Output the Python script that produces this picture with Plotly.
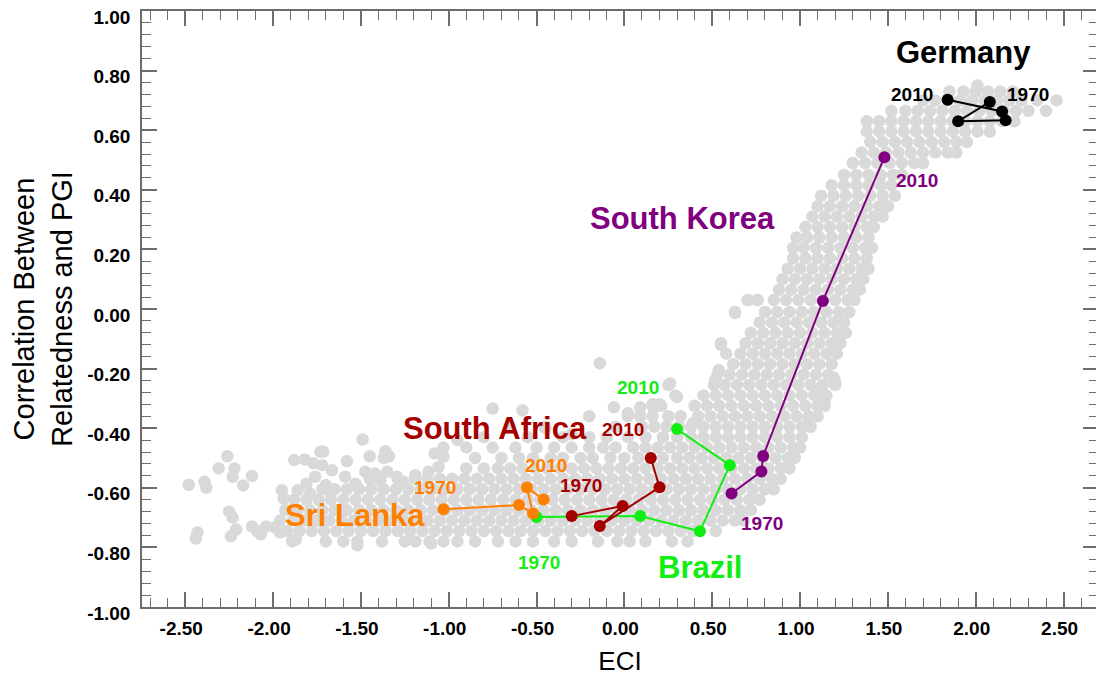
import plotly.graph_objects as go

# ---------------- data ----------------
x_tick_vals = [-2.5, -2.0, -1.5, -1.0, -0.5, 0.0, 0.5, 1.0, 1.5, 2.0, 2.5]
x_tick_text = ["-2.50", "-2.00", "-1.50", "-1.00", "-0.50", "0.00", "0.50", "1.00", "1.50", "2.00", "2.50"]
y_tick_vals = [-1.0, -0.8, -0.6, -0.4, -0.2, 0.0, 0.2, 0.4, 0.6, 0.8, 1.0]
y_tick_text = ["-1.00", "-0.80", "-0.60", "-0.40", "-0.20", "0.00", "0.20", "0.40", "0.60", "0.80", "1.00"]

years = [1970, 1980, 1990, 2000, 2010]
germany_eci = [2.08, 1.90, 2.17, 2.15, 1.84]
germany_corr = [0.695, 0.630, 0.633, 0.663, 0.702]
korea_eci = [0.61, 0.78, 0.79, 1.13, 1.48]
korea_corr = [-0.619, -0.545, -0.493, 0.027, 0.509]
brazil_eci = [-0.50, 0.09, 0.43, 0.60, 0.30]
brazil_corr = [-0.698, -0.695, -0.746, -0.524, -0.403]
safrica_eci = [-0.30, -0.01, -0.14, 0.20, 0.15]
safrica_corr = [-0.695, -0.661, -0.728, -0.598, -0.500]
srilanka_eci = [-1.03, -0.60, -0.52, -0.555, -0.46]
srilanka_corr = [-0.672, -0.658, -0.686, -0.599, -0.639]

# grey cloud: all country-years, read row by row (corr, list of ECI)
cloud_rows = [
    (-0.780, [-1.89, -1.70, -1.60, -1.52, -1.38, -1.25, -1.19, -1.11, -1.03, -0.95, -0.85, -0.72, -0.62,
              -0.52, -0.40, -0.30, -0.15, -0.04, 0.03, 0.12, 0.27, 0.36]),
    (-0.745, [-1.92, -1.85, -1.78, -1.71, -1.64, -1.57, -1.50, -1.43, -1.36, -1.29, -1.22, -1.15, -1.08,
              -1.01, -0.94, -0.87, -0.80, -0.73, -0.66, -0.59, -0.52, -0.45, -0.38, -0.31, -0.24, -0.17,
              -0.10, -0.03, 0.04, 0.11, 0.18, 0.25, 0.32, 0.39, 0.52]),
    (-0.710, [-1.96, -1.89, -1.82, -1.75, -1.68, -1.61, -1.54, -1.47, -1.40, -1.33, -1.26, -1.19, -1.12,
              -1.05, -0.98, -0.91, -0.84, -0.77, -0.70, -0.63, -0.56, -0.49, -0.42, -0.35, -0.28, -0.21,
              -0.14, -0.07, 0.00, 0.07, 0.14, 0.21, 0.28, 0.35, 0.42, 0.49, 0.56, 0.63, 0.68]),
    (-0.675, [-1.93, -1.86, -1.79, -1.72, -1.65, -1.58, -1.51, -1.44, -1.37, -1.30, -1.23, -1.16, -1.09,
              -1.02, -0.95, -0.88, -0.81, -0.74, -0.67, -0.60, -0.53, -0.46, -0.39, -0.32, -0.25, -0.18,
              -0.11, -0.04, 0.03, 0.10, 0.17, 0.24, 0.31, 0.38, 0.45, 0.52, 0.59, 0.66, 0.72]),
    (-0.640, [-1.88, -1.81, -1.74, -1.67, -1.60, -1.53, -1.46, -1.39, -1.32, -1.25, -1.18, -1.11, -1.04,
              -0.97, -0.90, -0.83, -0.76, -0.69, -0.62, -0.55, -0.48, -0.41, -0.34, -0.27, -0.20, -0.13,
              -0.06, 0.01, 0.08, 0.15, 0.22, 0.29, 0.36, 0.43, 0.50, 0.57, 0.64, 0.71, 0.77]),
    (-0.605, [-1.72, -1.65, -1.58, -1.51, -1.44, -1.37, -1.30, -1.23, -1.16, -1.09, -1.02, -0.95, -0.88,
              -0.81, -0.74, -0.67, -0.60, -0.53, -0.46, -0.39, -0.32, -0.25, -0.18, -0.11, -0.04, 0.03,
              0.10, 0.17, 0.24, 0.31, 0.38, 0.45, 0.52, 0.59, 0.66, 0.73, 0.80, 0.85]),
    (-0.570, [-1.45, -1.29, -1.19, -1.12, -1.05, -0.98, -0.91, -0.84, -0.77, -0.70, -0.63, -0.56, -0.49,
              -0.42, -0.35, -0.28, -0.21, -0.14, -0.07, 0.00, 0.07, 0.14, 0.21, 0.28, 0.35, 0.42, 0.49,
              0.56, 0.63, 0.70, 0.77, 0.84, 0.89]),
    (-0.535, [-0.90, -0.80, -0.72, -0.65, -0.58, -0.51, -0.44, -0.37, -0.30, -0.23, -0.16, -0.09, -0.02,
              0.05, 0.12, 0.19, 0.26, 0.33, 0.40, 0.47, 0.54, 0.61, 0.68, 0.75, 0.82, 0.89, 0.94]),
    (-0.500, [-0.85, -0.70, -0.60, -0.52, -0.42, -0.35, -0.25, -0.18, -0.08, 0.00, 0.08, 0.15, 0.22,
              0.30, 0.37, 0.44, 0.51, 0.58, 0.65, 0.72, 0.79, 0.86, 0.93, 0.97]),
    (-0.465, [-1.03, -0.90, -0.75, -0.62, -0.50, -0.40, -0.30, -0.20, -0.12, -0.05, 0.05, 0.12, 0.19,
              0.26, 0.33, 0.40, 0.47, 0.54, 0.61, 0.68, 0.75, 0.82, 0.89, 0.96, 1.00]),
    (-0.430, [-0.80, -0.55, -0.35, -0.20, -0.10, 0.02, 0.12, 0.22, 0.30, 0.38, 0.45, 0.52, 0.59, 0.66,
              0.73, 0.80, 0.87, 0.94, 1.01]),
    (-0.395, [-0.65, -0.45, -0.05, 0.10, 0.17, 0.24, 0.31, 0.38, 0.45, 0.52, 0.59, 0.66, 0.73, 0.80,
              0.87, 0.94, 1.01, 1.06]),
    (-0.360, [0.02, 0.09, 0.16, 0.25, 0.32, 0.42, 0.49, 0.56, 0.63, 0.70, 0.77, 0.84, 0.91, 0.98, 1.05, 1.10]),
    (-0.325, [0.16, 0.21, 0.40, 0.47, 0.54, 0.61, 0.68, 0.75, 0.82, 0.89, 0.96, 1.03, 1.10, 1.14]),
    (-0.290, [0.29, 0.45, 0.52, 0.59, 0.66, 0.73, 0.80, 0.87, 0.94, 1.01, 1.08, 1.15]),
    (-0.255, [0.25, 0.51, 0.57, 0.64, 0.71, 0.78, 0.85, 0.92, 0.99, 1.06, 1.13, 1.20]),
    (-0.220, [0.53, 0.60, 0.67, 0.74, 0.81, 0.88, 0.95, 1.02, 1.09, 1.16]),
    (-0.185, [0.62, 0.69, 0.76, 0.83, 0.90, 0.97, 1.04, 1.11, 1.18]),
    (-0.150, [0.58, 0.66, 0.73, 0.80, 0.87, 0.94, 1.01, 1.08, 1.15, 1.21]),
    (-0.115, [0.55, 0.69, 0.76, 0.83, 0.90, 0.97, 1.04, 1.11, 1.18, 1.23]),
    (-0.080, [0.72, 0.79, 0.86, 0.93, 1.00, 1.07, 1.14, 1.21, 1.26]),
    (-0.045, [0.77, 0.84, 0.91, 0.98, 1.05, 1.12, 1.19, 1.25]),
    (-0.010, [0.63, 0.80, 0.87, 0.94, 1.01, 1.08, 1.15, 1.22, 1.28]),
    (0.030, [0.70, 0.76, 0.85, 0.92, 0.99, 1.06, 1.13, 1.20, 1.27, 1.31]),
    (0.065, [0.88, 0.95, 1.02, 1.09, 1.16, 1.23, 1.30, 1.34]),
    (0.100, [0.90, 0.97, 1.04, 1.11, 1.18, 1.25, 1.32, 1.36]),
    (0.135, [0.93, 1.00, 1.07, 1.14, 1.21, 1.28, 1.35, 1.39]),
    (0.170, [0.96, 1.03, 1.10, 1.17, 1.24, 1.31, 1.38]),
    (0.205, [0.96, 1.02, 1.09, 1.16, 1.23, 1.30, 1.37, 1.41]),
    (0.240, [0.98, 1.04, 1.11, 1.18, 1.25, 1.32, 1.39]),
    (0.275, [1.03, 1.10, 1.17, 1.24, 1.31, 1.38, 1.42]),
    (0.310, [1.07, 1.14, 1.21, 1.28, 1.35, 1.42, 1.47]),
    (0.345, [1.10, 1.17, 1.24, 1.31, 1.38, 1.45, 1.50]),
    (0.380, [1.12, 1.19, 1.26, 1.33, 1.40, 1.47, 1.54]),
    (0.415, [1.18, 1.25, 1.32, 1.39, 1.46, 1.52]),
    (0.450, [1.25, 1.32, 1.39, 1.46, 1.53, 1.58]),
    (0.490, [1.30, 1.37, 1.44, 1.51, 1.58, 1.65, 1.70]),
    (0.525, [1.35, 1.42, 1.49, 1.56, 1.63, 1.70, 1.77, 1.84, 1.89]),
    (0.560, [1.40, 1.47, 1.54, 1.61, 1.68, 1.75, 1.82, 1.89, 1.95]),
    (0.595, [1.38, 1.45, 1.52, 1.59, 1.66, 1.73, 1.80, 1.87, 1.94, 2.01, 2.08]),
    (0.630, [1.38, 1.45, 1.52, 1.59, 1.66, 1.73, 1.80, 1.87, 1.94, 2.01, 2.08, 2.15, 2.22]),
    (0.665, [1.52, 1.60, 1.67, 1.74, 1.81, 1.88, 1.95, 2.02, 2.09, 2.16, 2.23, 2.30, 2.40]),
    (0.700, [1.70, 1.77, 1.84, 1.91, 1.98, 2.05, 2.12, 2.19, 2.26, 2.35, 2.46]),
    (0.730, [1.85, 1.93, 2.00, 2.07, 2.14, 2.21]),
    (0.750, [2.01]),
]
# scattered outliers of the cloud (ECI, corr)
sparse_eci = [-2.48, -2.39, -2.38, -2.43, -2.44, -2.31, -2.26, -2.22, -2.23, -2.17, -2.12, -2.25, -2.23,
              -2.24, -2.21, -2.12, -2.09, -2.07, -2.04, -1.99, -1.96, -1.95, -1.94, -1.89, -1.87, -1.88,
              -1.82, -1.77, -1.72, -1.73, -1.715, -1.86, -1.81, -1.79, -1.76, -1.70, -1.675, -1.49, -1.58,
              -1.45, -1.36, -1.34, -1.52, -1.665, -1.59, -1.53, -1.475, -1.42, -1.39, -1.35, -1.295, -1.257,
              -1.19, -1.115, -1.058, -1.08, -1.03, -1.10, -1.37, -0.75, -0.58, -0.14, -0.06, 0.02, 0.09,
              0.16, 0.20, 0.26, 0.30, 0.17, 0.55, 0.537, 0.517, 0.39, 0.63, 0.705, 0.755, -0.45, -0.30,
              -0.95, -0.20, 1.20, 1.14, 1.05, 1.19, 1.10]
sparse_corr = [-0.59, -0.58, -0.60, -0.75, -0.77, -0.535, -0.494, -0.535, -0.563, -0.592, -0.56, -0.68, -0.70,
               -0.763, -0.74, -0.73, -0.746, -0.756, -0.73, -0.733, -0.75, -0.608, -0.636, -0.778, -0.774, -0.507,
               -0.505, -0.518, -0.524, -0.479, -0.479, -0.608, -0.586, -0.619, -0.563, -0.591, -0.614, -0.438, -0.511,
               -0.494, -0.477, -0.494, -0.793, -0.541, -0.563, -0.586, -0.546, -0.552, -0.575, -0.546, -0.563, -0.58,
               -0.558, -0.546, -0.53, -0.485, -0.496, -0.787, -0.50, -0.334, -0.34, -0.182, -0.33, -0.35, -0.33,
               -0.32, -0.32, -0.25, -0.295, -0.33, -0.12, -0.205, -0.238, -0.383, -0.014, 0.03, 0.03, -0.40, -0.42,
               -0.44, -0.36, -0.244, -0.306, -0.367, -0.23, -0.28]

cloud_eci = [e for c, row in cloud_rows for e in row] + sparse_eci
cloud_corr = [c for c, row in cloud_rows for e in row] + sparse_corr

FONT = "Liberation Sans, Arial, Helvetica, sans-serif"
AX = "#6e6e6e"
GREY = "#d9d9d9"

countries = [
    ("Germany", germany_eci, germany_corr, "#000000"),
    ("South Korea", korea_eci, korea_corr, "#800080"),
    ("Brazil", brazil_eci, brazil_corr, "#11ee11"),
    ("South Africa", safrica_eci, safrica_corr, "#a50000"),
    ("Sri Lanka", srilanka_eci, srilanka_corr, "#ff8000"),
]

# label placements (ECI, corr) for name, 2010 and 1970
labels = {
    "Germany": ((1.928, 0.860), (1.636, 0.719), (2.300, 0.719)),
    "South Korea": ((0.333, 0.305), (1.668, 0.430), (0.786, -0.720)),
    "South Africa": ((-0.738, -0.401), (-0.009, -0.403), (-0.246, -0.591)),
    "Sri Lanka": ((-1.532, -0.692), (-0.445, -0.524), (-1.077, -0.599)),
    "Brazil": ((0.431, -0.866), (0.077, -0.263), (-0.485, -0.849)),
}

fig = go.Figure()
fig.add_trace(go.Scatter(x=cloud_eci, y=cloud_corr, mode="markers",
                         marker=dict(size=12.5, color=GREY, line=dict(width=0)),
                         hoverinfo="skip", showlegend=False))
for name, xs, ys, col in countries:
    fig.add_trace(go.Scatter(x=xs, y=ys, mode="lines+markers", name=name,
                             line=dict(color=col, width=2),
                             marker=dict(size=12, color=col),
                             text=[str(y) for y in years], showlegend=False))

colors = {n: c for n, _, _, c in countries}
for name, (npos, p2010, p1970) in labels.items():
    col = colors[name]
    fig.add_annotation(x=npos[0], y=npos[1], text=name, showarrow=False,
                       font=dict(family=FONT, size=31, color=col, weight="bold"))
    fig.add_annotation(x=p2010[0], y=p2010[1], text=str(years[-1]), showarrow=False,
                       font=dict(family=FONT, size=19, color=col, weight="bold"))
    fig.add_annotation(x=p1970[0], y=p1970[1], text=str(years[0]), showarrow=False,
                       font=dict(family=FONT, size=19, color=col, weight="bold"))

axis_common = dict(showline=True, linecolor=AX, linewidth=1.5, mirror="ticks",
                   ticks="inside", ticklen=15, tickwidth=1.5, tickcolor=AX,
                   showgrid=False, zeroline=False, automargin=False,
                   ticklabeloverflow="allow",
                   tickfont=dict(family=FONT, size=19, color="black", weight="bold"))

# the page body adds an 8 px offset, so the figure is 8 px smaller than the window
fig.update_layout(
    width=1096, height=668,
    margin=dict(l=134, r=6, t=3, b=69),
    paper_bgcolor="white", plot_bgcolor="white",
    xaxis=dict(range=[-2.746, 2.696], tickmode="array", tickvals=x_tick_vals, ticktext=x_tick_text,
               ticklabelstandoff=3, ticklabelshift=-4,
               minor=dict(tickmode="linear", tick0=0, dtick=0.1, ticks="inside", ticklen=9,
                          tickwidth=1.2, tickcolor=AX, showgrid=False),
               title=dict(text="ECI", font=dict(family=FONT, size=26, color="black"), standoff=22),
               **axis_common),
    yaxis=dict(range=[-1.0, 1.0], tickmode="array", tickvals=y_tick_vals, ticktext=y_tick_text,
               ticklabelstandoff=6, ticklabelshift=6,
               minor=dict(tickmode="linear", tick0=0, dtick=0.04, ticks="inside", ticklen=9,
                          tickwidth=1.2, tickcolor=AX, showgrid=False),
               title=dict(text="Correlation Between<br>Relatedness and PGI",
                          font=dict(family=FONT, size=29, color="black"), standoff=16),
               **axis_common),
)

fig.write_html("out.html")
